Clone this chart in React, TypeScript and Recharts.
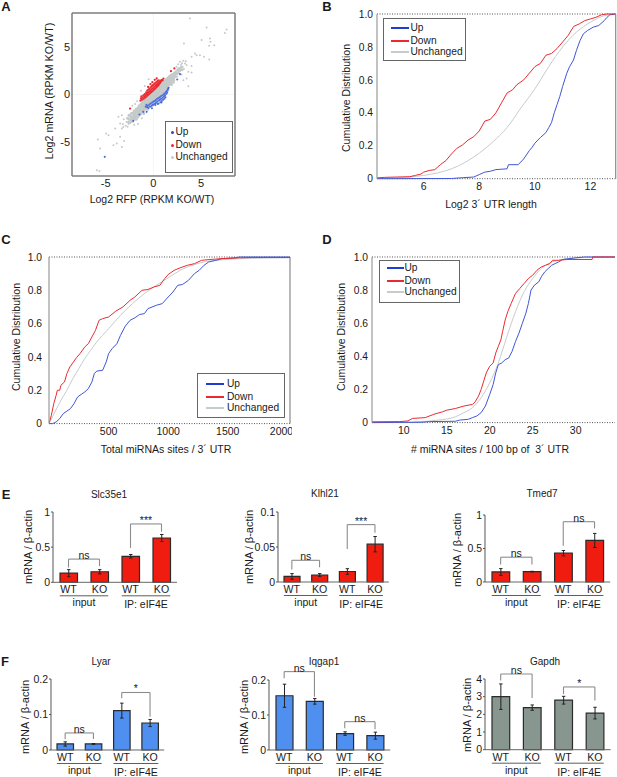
import React from 'react';
import {
  BarChart, Bar, ErrorBar, LineChart, Line, ScatterChart, Scatter,
  XAxis, YAxis, ReferenceLine,
} from 'recharts';

const FONT = '"Liberation Sans", Arial, sans-serif';
const UP = '#3f55d6';
const DOWN = '#ea2a30';
const SAME = '#c6cccb';
const BAR_RED = '#f01c10';
const BAR_BLUE = '#4f8ff0';
const BAR_GRAY = '#87968f';

type Pair = number[];

// panel A
const scatterTail: Pair[] = [
  [3.83, 8.03], [5.57, 7.08], [7.67, 6.87], [7.49, 6.5], [5.05, 5.74], [5.92, 5.92], [5.99, 5.56], [6.38, 5.2], [5.85, 5.14],
  [3.2, 5.39], [4.53, 4.15], [4.88, 4.15], [5.3, 3.98], [5.85, 3.7], [4.36, 4.33], [4.0, 3.98], [3.14, 3.56], [2.79, 3.45],
  [3.31, 3.27], [3.48, 3.1], [4.0, 3.0], [3.07, 2.92], [2.44, 2.92], [3.66, 2.39], [4.0, 2.32], [3.48, 1.69], [3.14, 1.51],
  [3.66, 0.88], [2.9, 3.1], [3.0, 3.3], [2.6, 3.2], [2.8, 2.5], [3.2, 2.7], [2.95, 2.1], [2.5, 1.9], [3.4, 3.5],
  [-5.92, -8], [-5.64, -8.06], [-5.82, -4.75], [-5.57, -5.7], [-4.95, -4.12], [-4.7, -4.3], [-3.83, -5.18], [-4.18, -5.35],
  [-3.3, -5.53], [-3.07, -4.9], [-3.48, -4.47], [-4, -3.6], [-3.66, -2.36], [-3.3, -2.18], [-3.48, -3.06], [-3.14, -3.42],
  [-3.3, -3.6], [-2.8, -2.9], [-3.1, -2.6], [-2.9, -3.3], [-3.2, -3.1], [-2.7, -3.4], [-2.6, -3.1], [-2.2, -1.2], [-1.9, -1.0],
  [-1.7, -0.7], [-1.3, 0.4], [-1.6, -3.1], [-1.2, -2.5], [-2.0, -3.2], [-0.9, 0.9], [-0.5, 1.6],
];
const scatterCore: Pair[] = [
  [-2.7, -2.5], [-2.6, -2.9], [-2.55, -2.2], [-2.5, -2.6], [-2.45, -2.95], [-2.4, -2.3], [-2.35, -2.7], [-2.3, -2.0],
  [-2.25, -2.45], [-2.2, -2.85], [-2.15, -1.95], [-2.1, -2.3], [-2.05, -2.6], [-2.0, -1.75], [-2.0, -2.1], [-1.95, -2.45],
  [-1.9, -1.9], [-1.85, -2.25], [-1.8, -1.55], [-1.8, -2.6], [-1.75, -1.8], [-1.7, -2.1], [-1.65, -2.4], [-1.62, -1.4],
  [-1.6, -1.65], [-1.55, -1.95], [-1.5, -2.2], [-1.48, -1.2], [-1.45, -1.5], [-1.4, -1.78], [-1.35, -2.05], [-1.32, -1.05],
  [-1.3, -1.35], [-1.25, -1.6], [-1.2, -1.85], [-1.18, -0.9], [-1.15, -1.18], [-1.1, -1.45], [-1.05, -1.7], [-1.02, -0.8],
  [-1.0, -1.05], [-0.95, -1.28], [-0.9, -1.55], [-0.88, -0.65], [-0.85, -0.9], [-0.8, -1.15], [-0.75, -1.4], [-0.72, -0.5],
  [-0.7, -0.75], [-0.65, -1.0], [-0.6, -1.25], [-0.58, -0.35], [-0.55, -0.6], [-0.5, -0.85], [-0.45, -1.08], [-0.43, -0.22],
  [-0.4, -0.45], [-0.35, -0.7], [-0.3, -0.92], [-0.28, -0.08], [-0.25, -0.32], [-0.2, -0.55], [-0.15, -0.78], [-0.13, 0.08],
  [-0.1, -0.18], [-0.05, -0.4], [0.0, -0.62], [0.02, 0.22], [0.05, -0.02], [0.1, -0.26], [0.15, -0.5], [0.17, 0.35],
  [0.2, 0.12], [0.25, -0.12], [0.3, -0.35], [0.32, 0.5], [0.35, 0.26], [0.4, 0.02], [0.45, -0.2], [0.47, 0.65],
  [0.5, 0.4], [0.55, 0.16], [0.6, -0.08], [0.62, 0.8], [0.65, 0.55], [0.7, 0.32], [0.75, 0.08], [0.77, 0.95],
  [0.8, 0.7], [0.85, 0.46], [0.9, 0.22], [0.92, 1.1], [0.95, 0.85], [1.0, 0.62], [1.05, 0.38], [1.07, 1.28],
  [1.1, 1.02], [1.15, 0.78], [1.2, 0.54], [1.22, 1.42], [1.25, 1.18], [1.3, 0.95], [1.35, 0.72], [1.37, 1.6],
  [1.4, 1.35], [1.45, 1.1], [1.5, 0.88], [1.52, 1.75], [1.55, 1.5], [1.6, 1.26], [1.65, 1.05], [1.68, 1.9],
  [1.7, 1.66], [1.75, 1.42], [1.8, 1.2], [1.83, 2.02], [1.85, 1.8], [1.9, 1.58], [1.95, 1.36], [2.0, 2.12],
  [2.02, 1.92], [2.08, 1.72], [2.14, 1.52], [2.2, 2.28], [2.22, 2.06], [2.3, 1.88], [2.38, 2.4], [2.42, 2.16],
  [2.55, 2.6], [2.6, 2.3], [2.7, 2.75], [2.75, 2.52], [2.9, 2.85], [3.0, 2.62], [0.1, 0.55], [-0.2, 0.3], [-0.5, 0.05],
  [-0.8, -0.25], [-1.1, -0.6], [0.4, 0.8], [0.7, 1.15], [-0.1, -1.1], [0.3, -0.8], [0.7, -0.45], [1.1, 0.05], [1.5, 0.45],
  [-0.6, -1.55], [-1.0, -2.0], [1.9, 1.05], [2.1, 1.3],
];
const scatterDown: Pair[] = [
  [-2.44, -1.48], [1.85, 2.46], [2.2, 2.75], [0.35, 1.69], [-1.35, -0.65], [-1.3, -0.4], [-1.25, -0.2], [-1.2, -0.55],
  [-1.12, -0.32], [-1.05, -0.1], [-1.0, -0.45], [-0.95, -0.2], [-0.9, 0.05], [-0.85, -0.32], [-0.8, -0.05], [-0.75, 0.22],
  [-0.72, -0.2], [-0.68, 0.1], [-0.64, 0.4], [-0.6, -0.08], [-0.56, 0.2], [-0.52, 0.52], [-0.48, 0.02], [-0.44, 0.3],
  [-0.4, 0.62], [-0.36, 0.12], [-0.32, 0.42], [-0.28, 0.75], [-0.24, 0.24], [-0.2, 0.55], [-0.16, 0.88], [-0.12, 0.34],
  [-0.08, 0.65], [-0.04, 0.98], [0.0, 0.45], [0.04, 0.76], [0.08, 1.1], [0.12, 0.56], [0.16, 0.86], [0.2, 1.2],
  [0.24, 0.68], [0.28, 0.98], [0.32, 1.3], [0.36, 0.8], [0.4, 1.08], [0.44, 1.4], [0.48, 0.92], [0.52, 1.2], [0.56, 1.5],
  [0.6, 1.05], [0.65, 1.32], [0.7, 1.22], [0.76, 1.45], [0.82, 1.36], [0.9, 1.55], [0.98, 1.5], [1.06, 1.68], [-0.3, 1.1],
  [-0.1, 1.3], [0.15, 1.55], [-0.55, 0.8],
];
const scatterUp: Pair[] = [
  [-5.09, -6.58], [-2.1, -2.78], [-1.46, -2.11], [-1.05, -1.83], [-0.7, -1.83], [2.79, 2.15], [2.5, 1.58], [-0.8, -1.3],
  [-0.72, -1.1], [-0.65, -1.35], [-0.58, -1.18], [-0.5, -1.42], [-0.42, -1.05], [-0.35, -1.3], [-0.28, -0.95], [-0.2, -1.2],
  [-0.12, -0.85], [-0.05, -1.1], [0.02, -0.75], [0.08, -1.0], [0.14, -0.68], [0.2, -0.92], [0.26, -0.58], [0.32, -0.85],
  [0.38, -0.48], [0.44, -0.72], [0.5, -0.4], [0.55, -0.95], [0.6, -0.62], [0.65, -0.3], [0.7, -0.55], [0.75, -0.82],
  [0.78, -0.2], [0.83, -0.45], [0.88, -0.68], [0.92, -0.1], [0.97, -0.35], [1.02, -0.56], [1.06, 0.0], [1.1, -0.22],
  [1.15, -0.44], [1.18, 0.12], [1.22, -0.1], [1.27, -0.3], [1.3, 0.26], [1.34, 0.05], [1.4, 0.36], [1.45, 0.18], [1.5, 0.5],
  [1.55, 0.62], [1.6, 0.72], [0.2, -1.12], [0.45, -1.0], [-0.15, -1.45], [0.85, -0.85],
];

const legendNames = ['Up', 'Down', 'Unchanged'];
const cdfTicks = [0, 0.2, 0.4, 0.6, 0.8, 1];

// panel B
const bTicks = [6, 8, 10, 12];
const bUp: Pair[] = [
  [4.32, 0], [7, 0.001], [7.4, 0.006], [7.8, 0.01], [8, 0.025], [8.2, 0.04], [8.4, 0.045], [8.6, 0.055], [9.0, 0.06],
  [9.05, 0.085], [9.4, 0.085], [9.6, 0.12], [9.8, 0.17], [9.9, 0.19], [10, 0.215], [10.2, 0.25], [10.4, 0.28], [10.5, 0.31],
  [10.6, 0.34], [10.7, 0.4], [10.8, 0.45], [10.9, 0.5], [11, 0.56], [11.15, 0.64], [11.25, 0.68], [11.39, 0.72], [11.5, 0.78],
  [11.63, 0.84], [11.75, 0.88], [11.9, 0.9], [12.1, 0.92], [12.3, 0.93], [12.5, 0.96], [12.6, 0.98], [12.7, 0.995], [12.91, 1],
];
const bDown: Pair[] = [
  [4.32, 0.005], [4.6, 0.008], [5, 0.01], [5.5, 0.012], [5.7, 0.02], [5.9, 0.028], [6, 0.04], [6.2, 0.05], [6.4, 0.055],
  [6.6, 0.085], [6.8, 0.11], [7, 0.15], [7.2, 0.185], [7.4, 0.205], [7.6, 0.235], [7.8, 0.255], [8, 0.29], [8.1, 0.32],
  [8.2, 0.35], [8.4, 0.36], [8.6, 0.4], [8.8, 0.46], [9, 0.52], [9.2, 0.54], [9.35, 0.57], [9.6, 0.6], [9.8, 0.64], [10, 0.68],
  [10.2, 0.7], [10.4, 0.75], [10.6, 0.76], [10.8, 0.79], [11, 0.83], [11.2, 0.87], [11.4, 0.925], [11.6, 0.94], [11.8, 0.96],
  [12, 0.97], [12.2, 0.98], [12.4, 0.995], [12.6, 1], [12.91, 1],
];
const bSame: Pair[] = [
  [4.32, 0.002], [5, 0.005], [5.5, 0.01], [6, 0.02], [6.5, 0.035], [7, 0.06], [7.5, 0.1], [8, 0.155], [8.5, 0.225], [9, 0.31],
  [9.5, 0.43], [10, 0.545], [10.5, 0.68], [11, 0.8], [11.5, 0.89], [12, 0.95], [12.5, 0.99], [12.91, 1],
];

// panel C
const cTicks = [500, 1000, 1500, 2000];
const cUp: Pair[] = [
  [0, 0], [30, 0], [60, 0.01], [90, 0.03], [120, 0.06], [150, 0.075], [180, 0.09], [210, 0.12], [240, 0.16], [270, 0.175],
  [300, 0.19], [330, 0.21], [360, 0.25], [380, 0.3], [400, 0.315], [450, 0.32], [480, 0.37], [500, 0.42], [530, 0.45],
  [570, 0.48], [600, 0.53], [640, 0.585], [680, 0.62], [720, 0.635], [760, 0.655], [800, 0.66], [830, 0.69], [900, 0.71],
  [950, 0.72], [1000, 0.76], [1040, 0.79], [1080, 0.83], [1120, 0.835], [1170, 0.86], [1220, 0.9], [1260, 0.92], [1300, 0.95],
  [1340, 0.97], [1400, 0.98], [1450, 0.99], [1560, 0.995], [1600, 1], [2022, 1],
];
const cDown: Pair[] = [
  [0, 0], [20, 0.05], [40, 0.12], [60, 0.17], [70, 0.2], [90, 0.2], [100, 0.23], [130, 0.25], [150, 0.3], [175, 0.34],
  [200, 0.365], [230, 0.395], [260, 0.42], [300, 0.46], [330, 0.48], [360, 0.52], [390, 0.56], [420, 0.62], [450, 0.63],
  [500, 0.64], [560, 0.675], [620, 0.7], [680, 0.74], [720, 0.76], [780, 0.8], [830, 0.805], [880, 0.82], [930, 0.83],
  [970, 0.87], [1000, 0.895], [1050, 0.92], [1100, 0.935], [1160, 0.95], [1220, 0.96], [1280, 0.98], [1350, 0.985],
  [1450, 0.99], [1600, 0.995], [1700, 0.997], [2022, 0.997],
];
const cSame: Pair[] = [
  [0, 0], [50, 0.07], [100, 0.14], [150, 0.2], [200, 0.27], [250, 0.33], [300, 0.39], [350, 0.44], [400, 0.49], [450, 0.53],
  [500, 0.57], [600, 0.65], [700, 0.72], [800, 0.78], [900, 0.83], [1000, 0.875], [1100, 0.92], [1200, 0.95], [1300, 0.97],
  [1400, 0.98], [1600, 0.99], [2022, 0.995],
];

// panel D
const dTicks = [10, 15, 20, 25, 30];
const dUp: Pair[] = [
  [6.31, 0], [12, 0.002], [13, 0.006], [16, 0.008], [16.5, 0.015], [17.5, 0.02], [18, 0.03], [18.5, 0.04], [19, 0.06],
  [19.5, 0.1], [20, 0.17], [20.4, 0.23], [20.7, 0.3], [21, 0.35], [21.4, 0.36], [21.8, 0.38], [22.2, 0.39], [22.6, 0.43],
  [23, 0.49], [23.4, 0.54], [23.8, 0.6], [24.2, 0.66], [24.5, 0.72], [24.8, 0.8], [25.2, 0.83], [25.7, 0.85], [26, 0.88],
  [26.4, 0.91], [26.8, 0.93], [27.2, 0.95], [27.6, 0.96], [28, 0.97], [28.5, 0.985], [30, 0.995], [31, 1], [34.57, 1],
];
const dDown: Pair[] = [
  [6.31, 0.005], [9.5, 0.006], [10.5, 0.01], [11, 0.025], [12.5, 0.03], [13.5, 0.05], [14.5, 0.065], [15, 0.075], [16, 0.085],
  [17, 0.1], [18, 0.11], [18.3, 0.125], [18.7, 0.16], [19, 0.2], [19.3, 0.25], [19.6, 0.3], [20, 0.34], [20.4, 0.36],
  [20.7, 0.42], [21, 0.46], [21.3, 0.5], [21.5, 0.55], [21.8, 0.62], [22.1, 0.67], [22.5, 0.72], [23, 0.78], [23.5, 0.81],
  [24, 0.84], [24.5, 0.87], [25, 0.89], [25.5, 0.92], [26, 0.94], [26.5, 0.95], [27, 0.96], [27.3, 0.98], [28, 0.98],
  [29, 0.985], [31.9, 0.985], [32, 1], [34.57, 1],
];
const dSame: Pair[] = [
  [6.31, 0], [10, 0.002], [12, 0.006], [14, 0.015], [16, 0.035], [17, 0.06], [18, 0.09], [19, 0.15], [20, 0.24], [21, 0.36],
  [22, 0.52], [23, 0.67], [24, 0.79], [25, 0.87], [26, 0.93], [27, 0.965], [28, 0.98], [29, 0.99], [31, 0.997], [34.57, 1],
];

// panels E and F
const barIds = ['a', 'b', 'c', 'd'];
const barLabels = ['WT', 'KO', 'WT', 'KO'];
const groupLabels = ['input', 'IP: eIF4E'];

const slc35e1Values = [0.13, 0.15, 0.37, 0.63];
const slc35e1Errors = [0.05, 0.03, 0.025, 0.05];
const klhl21Values = [0.008, 0.01, 0.015, 0.054];
const klhl21Errors = [0.004, 0.002, 0.004, 0.011];
const tmed7Values = [0.15, 0.155, 0.43, 0.62];
const tmed7Errors = [0.05, 0.005, 0.04, 0.105];
const lyarValues = [0.017, 0.017, 0.111, 0.076];
const lyarErrors = [0.006, 0.001, 0.021, 0.01];
const iqgap1Values = [0.155, 0.139, 0.047, 0.041];
const iqgap1Errors = [0.033, 0.008, 0.005, 0.01];
const gapdhValues = [3.0, 2.38, 2.8, 2.07];
const gapdhErrors = [0.72, 0.15, 0.22, 0.33];

// bracket: from bar, to bar, start height, top height, end height, label
type Bracket = [string, string, number, number, number, string];
const slc35e1Brackets: Bracket[] = [['a', 'b', 0.21, 0.33, 0.23, 'ns'], ['c', 'd', 0.49, 0.83, 0.72, '***']];
const klhl21Brackets: Bracket[] = [['a', 'b', 0.018, 0.031, 0.021, 'ns'], ['c', 'd', 0.047, 0.082, 0.0705, '***']];
const tmed7Brackets: Bracket[] = [['a', 'b', 0.26, 0.37, 0.26, 'ns'], ['c', 'd', 0.54, 0.9, 0.8, 'ns']];
const lyarBrackets: Bracket[] = [['a', 'b', 0.03, 0.048, 0.031, 'ns'], ['c', 'd', 0.146, 0.162, 0.094, '*']];
const iqgap1Brackets: Bracket[] = [['a', 'b', 0.205, 0.224, 0.152, 'ns'], ['c', 'd', 0.062, 0.081, 0.059, 'ns']];
const gapdhBrackets: Bracket[] = [['a', 'b', 3.92, 4.28, 2.92, 'ns'], ['c', 'd', 3.15, 3.55, 2.79, '*']];

const Txt = ({ x, y, children, size = 11, rotate = 0, bold = false }: any) => (
  <div
    style={{
      position: 'absolute', left: x, top: y, fontSize: size, fontWeight: bold ? 700 : 400, color: '#1a1a1a',
      whiteSpace: 'pre', lineHeight: 1.2, transform: `translate(-50%, -50%) rotate(${rotate}deg)`,
    }}
  >
    {children}
  </div>
);

const LegendBox = ({ left, top, width, height, rows, lineX, lineW, textX, dots }: any) => (
  <div
    style={{
      position: 'absolute', left, top, width, height, background: '#fff', border: '1.5px solid #666', boxSizing: 'border-box',
    }}
  >
    {legendNames.map((name, i) => {
      const color = [dots ? '#2a46d8' : '#1f3dcf', DOWN, SAME][i];
      return (
        <React.Fragment key={name}>
          {dots ? (
            <div style={{ position: 'absolute', left: lineX, top: rows[i] - 1.5, width: 3, height: 3, borderRadius: 2, background: color }} />
          ) : (
            <div style={{ position: 'absolute', left: lineX, top: rows[i] - 1, width: lineW, height: 2, background: color }} />
          )}
          <div style={{ position: 'absolute', left: textX, top: rows[i] - 6, fontSize: 10.2, lineHeight: '12px', color: '#1a1a1a' }}>{name}</div>
        </React.Fragment>
      );
    })}
  </div>
);

const dots = (color: string, r: number) => (p: any) => <circle cx={p.cx} cy={p.cy} r={r} fill={color} />;
const toXY = (pairs: Pair[]) => pairs.map(([x, y]) => ({ x, y }));

const ScatterPanel = () => {
  const left = 72;
  const top = 13;
  const w = 163;
  const h = 163;
  return (
    <div style={{ position: 'absolute', left: left - 40, top: top - 4 }}>
      <ScatterChart width={40 + w + 4} height={4 + h + 22} margin={{ top: 4, right: 4, left: 0, bottom: 0 }}>
        <XAxis
          type="number" dataKey="x" domain={[-8.52, 8.55]} ticks={[-5, 0, 5]} height={22} allowDataOverflow
          axisLine={{ stroke: '#7d7d7d', strokeWidth: 1.5 }} tickLine={false} tickSize={0} tickMargin={3}
          tick={{ fill: '#1a1a1a', fontSize: 11 }}
        />
        <YAxis
          type="number" dataKey="y" domain={[-8.6, 8.6]} ticks={[-5, 0, 5]} width={40} allowDataOverflow
          axisLine={{ stroke: '#7d7d7d', strokeWidth: 1.5 }} tickLine={false} tickSize={0} tickMargin={2}
          tick={{ fill: '#1a1a1a', fontSize: 11 }}
        />
        <ReferenceLine x={0} stroke="#f6f6f6" />
        <ReferenceLine y={0} stroke="#f6f6f6" />
        <ReferenceLine x={8.55} stroke="#7d7d7d" strokeWidth={1.5} />
        <ReferenceLine y={8.6} stroke="#7d7d7d" strokeWidth={1.5} />
        <Scatter data={toXY(scatterTail)} shape={dots('#c4cac9', 1)} isAnimationActive={false} />
        <Scatter data={toXY(scatterCore)} shape={dots('#c4cac9', 1.5)} isAnimationActive={false} />
        <Scatter data={toXY(scatterDown)} shape={dots(DOWN, 1.15)} isAnimationActive={false} />
        <Scatter data={toXY(scatterUp)} shape={dots('#4a6bdc', 1.05)} isAnimationActive={false} />
      </ScatterChart>
    </div>
  );
};

const CdfPanel = ({ left, right, top, bottom, domain, ticks, up, down, same, rightLine, tickGap = 4 }: any) => {
  const w = right - left;
  const h = bottom - top;
  const fmt = (v: number) => (v === 0 ? '0' : v.toFixed(1));
  return (
    <div style={{ position: 'absolute', left: left - 40, top: top - 5 }}>
      <LineChart width={40 + w + 2} height={5 + h + 24} margin={{ top: 5, right: 2, left: 0, bottom: 0 }}>
        <XAxis
          type="number" dataKey="x" domain={domain} ticks={ticks} height={24} allowDataOverflow
          axisLine={false} tickLine={false} tickSize={0} tickMargin={4} tick={{ fill: '#1a1a1a', fontSize: 10.5 }}
        />
        <YAxis
          type="number" dataKey="y" domain={[0, 1]} ticks={cdfTicks} width={40} tickFormatter={fmt}
          axisLine={{ stroke: '#9a9a9a', strokeWidth: 1.2 }} tickLine={false} tickSize={0} tickMargin={tickGap}
          tick={{ fill: '#1a1a1a', fontSize: 10.3 }}
        />
        <ReferenceLine y={1} stroke="#555" strokeDasharray="1 1.5" />
        <ReferenceLine y={0} stroke="#555" strokeDasharray="1 1.5" />
        {rightLine && <ReferenceLine x={domain[1]} stroke="#8a8a8a" strokeWidth={1.2} />}
        <Line data={toXY(same)} dataKey="y" type="monotone" stroke={SAME} strokeWidth={1} dot={false} isAnimationActive={false} />
        <Line data={toXY(up)} dataKey="y" type="linear" stroke={UP} strokeWidth={1} dot={false} isAnimationActive={false} />
        <Line data={toXY(down)} dataKey="y" type="linear" stroke={DOWN} strokeWidth={1} dot={false} isAnimationActive={false} />
      </LineChart>
    </div>
  );
};

const GroupTick = ({ x, y, payload, step, barW }: any) => {
  const i = payload.index;
  const isFirst = i % 2 === 0;
  return (
    <g>
      <text x={x} y={y + 3} textAnchor="middle" fontSize={10.6} fill="#1a1a1a">{barLabels[i]}</text>
      {isFirst && (
        <>
          <line x1={x - barW / 2} x2={x + step + barW / 2} y1={y + 5.5} y2={y + 5.5} stroke="#333" strokeWidth={0.8} />
          <text x={x + step / 2} y={y + (i === 0 ? 16 : 18)} textAnchor="middle" fontSize={10.5} fill="#1a1a1a">{groupLabels[i / 2]}</text>
        </>
      )}
    </g>
  );
};

const BarPanel = ({ x0, step, yTop, y0, barW, yMax, ticks, tickText, values, errors, color, brackets }: any) => {
  const data = barIds.map((id, i) => ({ id, value: values[i], err: errors[i] }));
  const fmt = (v: number) => tickText[ticks.indexOf(v)];
  return (
    <div style={{ position: 'absolute', left: x0 - 36, top: yTop - 30 }}>
      <BarChart
        width={36 + 4 * step + 4} height={30 + (y0 - yTop) + 36} data={data}
        margin={{ top: 30, right: 4, left: 0, bottom: 0 }}
      >
        <XAxis
          dataKey="id" height={36} interval={0} tickLine={false}
          axisLine={{ stroke: '#666', strokeWidth: 1 }}
          tick={(p: any) => <GroupTick {...p} step={step} barW={barW} />}
        />
        <YAxis
          type="number" domain={[0, yMax]} ticks={ticks} width={36} tickFormatter={fmt} tickSize={2} tickMargin={1}
          axisLine={{ stroke: '#555', strokeWidth: 1 }} tickLine={{ stroke: '#555' }} tick={{ fill: '#1a1a1a', fontSize: 10.5 }}
        />
        <Bar dataKey="value" barSize={barW} fill={color} stroke="#2b2b2b" strokeWidth={1.2} isAnimationActive={false}>
          <ErrorBar dataKey="err" width={1.7} stroke="#222" strokeWidth={1} isAnimationActive={false} />
        </Bar>
        {brackets.map((b: Bracket, i: number) => (
          <React.Fragment key={i}>
            <ReferenceLine ifOverflow="visible" stroke="#8c8c8c" strokeWidth={1.1} segment={[{ x: b[0], y: b[2] }, { x: b[0], y: b[3] }]} />
            <ReferenceLine
              ifOverflow="visible" stroke="#8c8c8c" strokeWidth={1.1} segment={[{ x: b[0], y: b[3] }, { x: b[1], y: b[3] }]}
              label={{ value: b[5], position: 'top', offset: 0, fontSize: 10.5, fill: '#1a1a1a' }}
            />
            <ReferenceLine ifOverflow="visible" stroke="#8c8c8c" strokeWidth={1.1} segment={[{ x: b[1], y: b[3] }, { x: b[1], y: b[4] }]} />
          </React.Fragment>
        ))}
      </BarChart>
    </div>
  );
};

export default function App() {
  return (
    <div style={{ position: 'absolute', left: 0, top: 0, width: 617, height: 777, background: '#fff', fontFamily: FONT, overflow: 'hidden' }}>
      <Txt x={6} y={7} size={13} bold>A</Txt>
      <Txt x={327} y={7} size={13} bold>B</Txt>
      <Txt x={6} y={240} size={13} bold>C</Txt>
      <Txt x={327} y={240} size={13} bold>D</Txt>
      <Txt x={6} y={495} size={13} bold>E</Txt>
      <Txt x={5} y={662} size={13} bold>F</Txt>

      <ScatterPanel />
      <LegendBox left={165} top={121} width={68} height={52} rows={[10, 23, 35]} lineX={5} textX={9.5} dots />
      <Txt x={152} y={199} size={10.5}>Log2 RFP (RPKM KO/WT)</Txt>
      <Txt x={49} y={91} size={10.7} rotate={-90}>Log2 mRNA (RPKM KO/WT)</Txt>

      <CdfPanel left={377} right={615.7} top={14.3} bottom={179} domain={[4.32, 12.91]} ticks={bTicks} up={bUp} down={bDown} same={bSame} rightLine />
      <LegendBox left={382.5} top={18} width={83} height={43} rows={[8.5, 21.5, 33]} lineX={7} lineW={18} textX={27} />
      <Txt x={491} y={204} size={10.5}>Log2 3´ UTR length</Txt>
      <Txt x={346} y={98} size={10.5} rotate={-90}>Cumulative Distribution</Txt>

      <CdfPanel left={49.3} right={290.3} top={256.7} bottom={423.3} domain={[0, 2022]} ticks={cTicks} up={cUp} down={cDown} same={cSame} rightLine tickGap={7} />
      <LegendBox left={197} top={373} width={88} height={45} rows={[9.5, 22.5, 34]} lineX={8} lineW={18} textX={29} />
      <Txt x={166} y={449} size={10.5}>Total miRNAs sites / 3´ UTR</Txt>
      <Txt x={16} y={337} size={10.5} rotate={-90}>Cumulative Distribution</Txt>

      <CdfPanel left={372} right={615} top={256.7} bottom={422.3} domain={[6.31, 34.57]} ticks={dTicks} up={dUp} down={dDown} same={dSame} />
      <LegendBox left={378.5} top={260} width={81} height={43} rows={[6.5, 19.5, 31]} lineX={7} lineW={17} textX={25} />
      <Txt x={490} y={449} size={10.5}># miRNA sites / 100 bp of  3´ UTR</Txt>
      <Txt x={341} y={337} size={10.5} rotate={-90}>Cumulative Distribution</Txt>

      <Txt x={109} y={495} size={10}>Slc35e1</Txt>
      <Txt x={29} y={547} size={11} rotate={-90}>mRNA / β-actin</Txt>
      <BarPanel x0={52.5} step={31} yTop={511.7} y0={582} barW={17.5} yMax={1} ticks={[0, 0.5, 1]} tickText={['0', '0.5', '1']} values={slc35e1Values} errors={slc35e1Errors} color={BAR_RED} brackets={slc35e1Brackets} />

      <Txt x={325} y={494} size={10}>Klhl21</Txt>
      <Txt x={250} y={547} size={11} rotate={-90}>mRNA / β-actin</Txt>
      <BarPanel x0={277.8} step={27.7} yTop={511.7} y0={581.7} barW={16} yMax={0.1} ticks={[0, 0.05, 0.1]} tickText={['0', '0.05', '0.1']} values={klhl21Values} errors={klhl21Errors} color={BAR_RED} brackets={klhl21Brackets} />

      <Txt x={542} y={494} size={10}>Tmed7</Txt>
      <Txt x={458} y={550} size={11} rotate={-90}>mRNA / β-actin</Txt>
      <BarPanel x0={485.3} step={31.3} yTop={514.7} y0={581.7} barW={17.7} yMax={1} ticks={[0, 0.5, 1]} tickText={['0', '0.5', '1']} values={tmed7Values} errors={tmed7Errors} color={BAR_RED} brackets={tmed7Brackets} />

      <Txt x={101} y={662} size={10}>Lyar</Txt>
      <Txt x={26} y={717} size={11} rotate={-90}>mRNA / β-actin</Txt>
      <BarPanel x0={50.5} step={28.3} yTop={679} y0={750} barW={16.5} yMax={0.2} ticks={[0, 0.1, 0.2]} tickText={['0', '0.1', '0.2']} values={lyarValues} errors={lyarErrors} color={BAR_BLUE} brackets={lyarBrackets} />

      <Txt x={324} y={662} size={10}>Iqgap1</Txt>
      <Txt x={245} y={717} size={11} rotate={-90}>mRNA / β-actin</Txt>
      <BarPanel x0={269} step={30.3} yTop={680} y0={750} barW={17} yMax={0.2} ticks={[0, 0.1, 0.2]} tickText={['0', '0.1', '0.2']} values={iqgap1Values} errors={iqgap1Errors} color={BAR_BLUE} brackets={iqgap1Brackets} />

      <Txt x={545} y={662} size={10}>Gapdh</Txt>
      <Txt x={468} y={715} size={11} rotate={-90}>mRNA / β-actin</Txt>
      <BarPanel x0={484.8} step={31.4} yTop={679.3} y0={750} barW={17.7} yMax={4} ticks={[0, 1, 2, 3, 4]} tickText={['0', '1', '2', '3', '4']} values={gapdhValues} errors={gapdhErrors} color={BAR_GRAY} brackets={gapdhBrackets} />
    </div>
  );
}
